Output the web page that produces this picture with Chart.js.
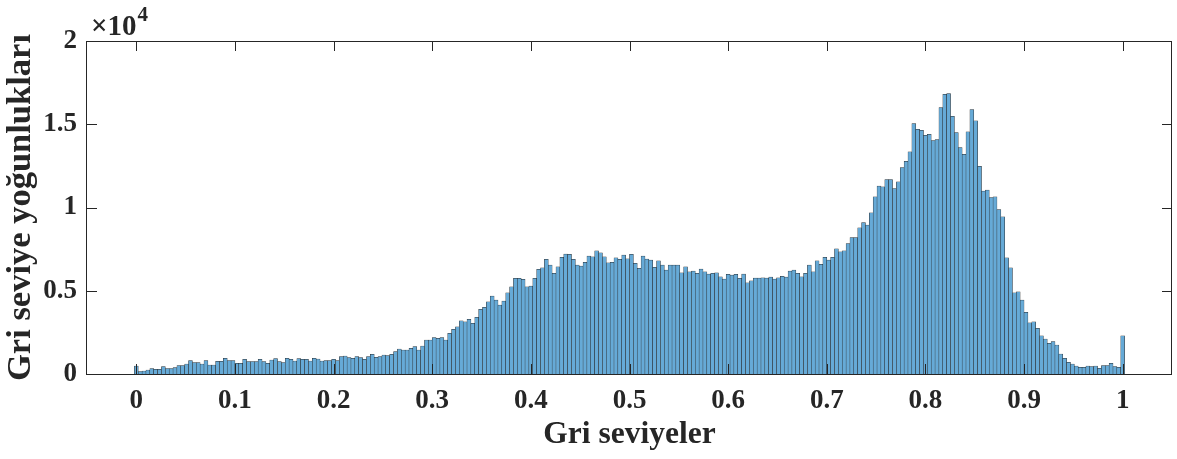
<!DOCTYPE html>
<html>
<head>
<meta charset="utf-8">
<script src="https://cdn.jsdelivr.net/npm/chart.js@4.4.1/dist/chart.umd.min.js"></script>
<style>
    html, body { margin: 0; padding: 0; background: #fff; }
    canvas { display: block; }
</style>
</head>
<body>
<canvas id="histChart" width="1177" height="459"></canvas>
<script>
// Gray-level histogram, 256 bins over [0, 1]
const grayCounts = [
    480, 150, 180, 240, 320, 280, 280, 440, 320, 320, 380, 500, 500, 600, 800, 680,
    680, 600, 800, 540, 540, 760, 760, 940, 800, 800, 640, 640, 880, 740, 740, 740,
    880, 740, 640, 840, 920, 740, 680, 940, 880, 780, 920, 880, 880, 780, 940, 900,
    780, 800, 800, 880, 800, 1040, 1080, 980, 940, 1040, 980, 880, 1040, 1180, 1000, 1040,
    1140, 1100, 1180, 1340, 1500, 1440, 1440, 1540, 1640, 1440, 1680, 2040, 2040, 2180, 2140, 2180,
    2040, 2440, 2680, 2840, 3200, 3140, 3280, 3040, 3400, 3880, 4000, 4340, 4680, 4440, 4140, 4380,
    4880, 5240, 5740, 5740, 5680, 5240, 5280, 5740, 6280, 6380, 6880, 6540, 6040, 6440, 7000, 7200,
    7180, 6880, 6540, 6480, 6700, 7080, 7040, 7400, 7280, 7040, 6680, 6700, 6980, 6880, 7140, 6920,
    7180, 6640, 6340, 7080, 6900, 6840, 6400, 6800, 6540, 6240, 6540, 6540, 6540, 6080, 6440, 6140,
    6180, 6040, 6300, 6140, 6000, 6040, 6080, 5840, 5700, 5980, 5940, 5980, 5740, 6000, 5480, 5600,
    5760, 5760, 5780, 5760, 5820, 5700, 5780, 5860, 5820, 6180, 6240, 6040, 5840, 6040, 6540, 6140,
    6800, 6580, 7000, 6840, 7000, 7520, 7340, 7400, 7840, 8200, 8200, 8780, 9100, 8940, 9680, 10640,
    11280, 11240, 11680, 11680, 11140, 11540, 12400, 12780, 13340, 15040, 14700, 14640, 14340, 14400, 14020, 14080,
    16000, 16800, 16840, 15480, 14500, 13600, 13200, 14540, 15880, 15200, 12480, 10980, 11040, 10600, 10640, 9880,
    9440, 6980, 6380, 4880, 4940, 4440, 3700, 3080, 3140, 2740, 2300, 2100, 1840, 1940, 1740, 1200,
    940, 700, 600, 480, 400, 400, 480, 440, 480, 340, 500, 500, 640, 440, 400, 2300
];
const xTickValues = [0, 0.1, 0.2, 0.3, 0.4, 0.5, 0.6, 0.7, 0.8, 0.9, 1];
const yTickValues = [0, 5000, 10000, 15000, 20000];
const xLimits = [-0.05, 1.05];
const yLimits = [0, 20000];
const yExponent = 4;
const xTitle = 'Gri seviyeler';
const yTitle = 'Gri seviye yoğunlukları';

const serif = "'Liberation Serif', 'Times New Roman', serif";
const axisColor = '#262626';
const faceColor = 'rgb(102, 170, 215)';

Chart.defaults.font.family = serif;
Chart.defaults.color = axisColor;

// bin centers sit at i / (n - 1)
const points = grayCounts.map((c, i) => ({ x: i / (grayCounts.length - 1), y: c }));

// MATLAB-style box with inward tick marks and the "x10^4" multiplier
const axesBox = {
    id: 'axesBox',
    afterDraw(chart) {
        const { ctx, chartArea: a, scales } = chart;
        const len = 10;
        ctx.save();
        ctx.strokeStyle = axisColor;
        ctx.lineWidth = 1;
        ctx.strokeRect(a.left - 0.5, a.top + 0.5, a.right - a.left, a.bottom - a.top);

        ctx.beginPath();
        scales.x.ticks.forEach(t => {
            const px = Math.round(scales.x.getPixelForValue(t.value)) + 0.5;
            ctx.moveTo(px, a.bottom); ctx.lineTo(px, a.bottom - len);
            ctx.moveTo(px, a.top); ctx.lineTo(px, a.top + len);
        });
        scales.y.ticks.forEach(t => {
            const py = Math.round(scales.y.getPixelForValue(t.value)) + 0.5;
            ctx.moveTo(a.left, py); ctx.lineTo(a.left + len, py);
            ctx.moveTo(a.right, py); ctx.lineTo(a.right - len, py);
        });
        ctx.stroke();

        // axis multiplier above the y axis
        ctx.fillStyle = axisColor;
        ctx.textBaseline = 'alphabetic';
        ctx.textAlign = 'left';
        ctx.font = 'bold 29px ' + serif;
        const base = '\u00d710';
        ctx.fillText(base, a.left + 4, a.top - 6);
        const w = ctx.measureText(base).width;
        ctx.font = 'bold 21px ' + serif;
        ctx.fillText(String(yExponent), a.left + 4 + w + 1, a.top - 20);
        ctx.restore();
    }
};

new Chart(document.getElementById('histChart'), {
    type: 'bar',
    data: {
        datasets: [{
            data: points,
            backgroundColor: faceColor,
            borderColor: axisColor,
            borderWidth: 0.5,
            barPercentage: 1,
            categoryPercentage: 1
        }]
    },
    options: {
        responsive: false,
        animation: false,
        devicePixelRatio: 1,
        layout: { padding: { left: 0, right: 5, top: 41, bottom: 0 } },
        plugins: {
            legend: { display: false },
            tooltip: { enabled: false }
        },
        scales: {
            x: {
                type: 'linear',
                offset: false,
                min: xLimits[0],
                max: xLimits[1],
                grid: { display: false, drawTicks: false },
                border: { display: false },
                afterBuildTicks: axis => { axis.ticks = xTickValues.map(v => ({ value: v })); },
                afterFit: axis => { axis.height = 85; },
                ticks: {
                    padding: 11,
                    maxRotation: 0,
                    autoSkip: false,
                    font: { size: 27, weight: 'bold' },
                    callback: v => String(Number(v.toFixed(1)))
                },
                title: {
                    display: true,
                    text: xTitle,
                    font: { size: 31.5, weight: 'bold', lineHeight: 1 },
                    padding: { top: 0, bottom: 8 }
                }
            },
            y: {
                min: yLimits[0],
                max: yLimits[1],
                grid: { display: false, drawTicks: false },
                border: { display: false },
                afterBuildTicks: axis => { axis.ticks = yTickValues.map(v => ({ value: v })); },
                afterFit: axis => { axis.width = 87; },
                ticks: {
                    padding: 10,
                    autoSkip: false,
                    font: { size: 27, weight: 'bold' },
                    callback: v => String(Number((v / Math.pow(10, yExponent)).toFixed(1)))
                },
                title: {
                    display: true,
                    text: yTitle,
                    font: { size: 34.5, weight: 'bold', lineHeight: 1 },
                    padding: { top: 4, bottom: 0 }
                }
            }
        }
    },
    plugins: [axesBox]
});
</script>
</body>
</html>
